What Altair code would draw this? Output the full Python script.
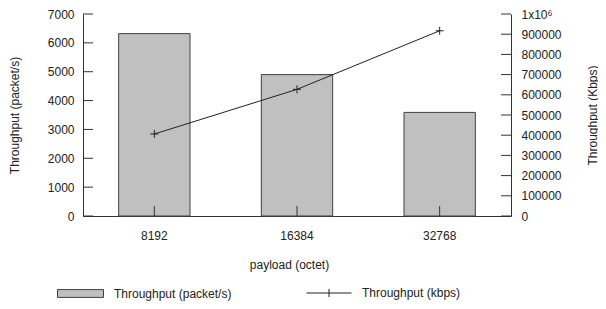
import altair as alt
import pandas as pd

# ---- data ----
payload = [8192, 16384, 32768]
packets_per_s = [6320, 4900, 3590]
kbps = [406000, 627000, 917000]
left_ticks = [0, 1000, 2000, 3000, 4000, 5000, 6000, 7000]
right_ticks = [0, 100000, 200000, 300000, 400000, 500000, 600000, 700000, 800000, 900000, 1000000]
bar_series = "Throughput (packet/s)"
line_series = "Throughput (kbps)"

W, H = 428, 202
TEXT = "#222222"
LINE = "#333333"
BAR_FILL = "#c0c0c0"
BAR_STROKE = "#404040"
FONT = "Liberation Sans"

bars_df = pd.DataFrame({"payload": payload, "packets": packets_per_s, "s1": [bar_series] * 3})
line_df = pd.DataFrame({"payload": payload, "kbps": kbps, "s2": [line_series] * 3})
lt_df = pd.DataFrame({"packets": left_ticks})
rt_df = pd.DataFrame({"kbps": right_ticks})
xt_df = pd.DataFrame({"payload": payload})

x_scale = alt.Scale(paddingInner=0.5, paddingOuter=0.25)
left_scale = alt.Scale(domain=[0, 7000], nice=False)
right_scale = alt.Scale(domain=[0, 1000000], nice=False)

x_axis = alt.Axis(
    labelAngle=0, ticks=False, labelPadding=14,
    titleX=206, titleY=52, titleBaseline="alphabetic", titleAlign="center",
)
left_axis = alt.Axis(
    orient="left", values=left_ticks, ticks=False, labelPadding=9, format="d",
    titleX=-69, titleY=H / 2, titleAngle=270, titleBaseline="middle", titleAlign="center",
)
right_axis = alt.Axis(
    orient="right", values=right_ticks, ticks=False, labelPadding=10,
    labelExpr="datum.value == 1000000 ? '1x10\u2076' : format(datum.value, 'd')",
    titleX=81, titleY=H / 2, titleAngle=270, titleBaseline="middle", titleAlign="center",
)

X = alt.X("payload:O", title="payload (octet)", scale=x_scale, axis=x_axis)
Y_LEFT = alt.Y("packets:Q", title="Throughput (packet/s)", scale=left_scale, axis=left_axis)
Y_RIGHT = alt.Y("kbps:Q", title="Throughput (Kbps)", scale=right_scale, axis=right_axis)

bars = alt.Chart(bars_df).mark_bar(stroke=BAR_STROKE, strokeWidth=1).encode(
    x=X,
    y=Y_LEFT,
    fill=alt.Fill(
        "s1:N",
        scale=alt.Scale(domain=[bar_series], range=[BAR_FILL]),
        legend=alt.Legend(
            title=None, orient="none", legendX=-26, legendY=256, padding=0,
            symbolType="M-1,-0.17H1V0.17H-1Z", symbolSize=2116,
            symbolStrokeColor=BAR_STROKE, symbolStrokeWidth=1,
            labelOffset=10, labelFont=FONT, labelFontSize=12, labelColor=TEXT,
        ),
    ),
)

left_tick_rules = alt.Chart(lt_df).mark_rule(color=LINE, strokeWidth=1).encode(
    y=Y_LEFT,
    x=alt.value(0),
    x2=alt.value(10),
)

x_tick_rules = alt.Chart(xt_df).mark_rule(color=LINE, strokeWidth=1).encode(
    x=X,
    y=alt.value(H - 10),
    y2=alt.value(H),
)

left_layer = alt.layer(bars, left_tick_rules, x_tick_rules)

line = alt.Chart(line_df).mark_line(strokeWidth=1).encode(
    x=X,
    y=Y_RIGHT,
    stroke=alt.Stroke(
        "s2:N",
        scale=alt.Scale(domain=[line_series], range=[TEXT]),
        legend=alt.Legend(
            title=None, orient="none", legendX=223, legendY=256, padding=0,
            symbolType="M-1,0H1M0,-0.18V0.18", symbolSize=2025,
            symbolStrokeWidth=1, symbolFillColor="transparent",
            labelOffset=10, labelFont=FONT, labelFontSize=12, labelColor=TEXT,
        ),
    ),
)

points = alt.Chart(line_df).mark_point(
    shape="M-1,0H1M0,-1V1", filled=False, size=64, strokeWidth=1, color=TEXT, opacity=1
).encode(
    x=X,
    y=Y_RIGHT,
)

right_tick_rules = alt.Chart(rt_df).mark_rule(color=LINE, strokeWidth=1).encode(
    y=Y_RIGHT,
    x=alt.value(W - 10),
    x2=alt.value(W),
)

right_layer = alt.layer(line, points, right_tick_rules)

chart = (
    alt.layer(left_layer, right_layer)
    .resolve_scale(y="independent")
    .properties(
        width=W, height=H,
        autosize=alt.AutoSizeParams(type="none"),
        padding={"left": 75, "top": 6, "right": 87, "bottom": 85},
        background="white",
    )
    .configure_view(stroke=None)
    .configure_axis(
        labelFont=FONT, titleFont=FONT, labelFontSize=12, titleFontSize=12,
        labelColor=TEXT, titleColor=TEXT, titleFontWeight="normal",
        domainColor=LINE, domainWidth=1, grid=False,
    )
)

chart.save("out.html", embed_options={"renderer": "svg", "actions": False})
